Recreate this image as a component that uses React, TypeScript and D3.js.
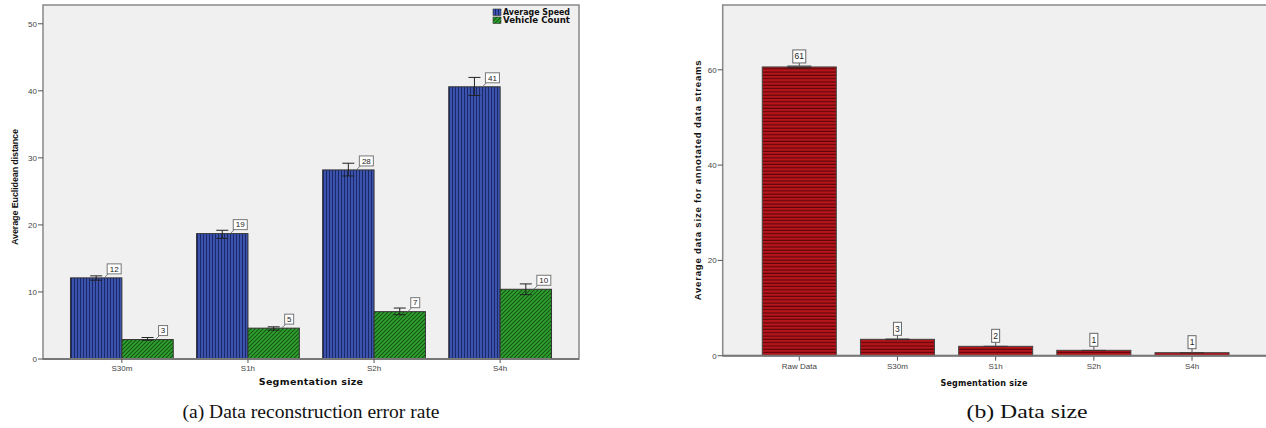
import React from 'react';
import * as d3 from 'd3';

// chart (a): reconstruction error
const segments = ['S30m', 'S1h', 'S2h', 'S4h'];
const seriesNames = ['Average Speed', 'Vehicle Count'];
const speedValues = [12.1, 18.7, 28.2, 40.6];
const speedLow = [11.75, 18.0, 27.3, 39.3];
const speedHigh = [12.4, 19.2, 29.2, 42.0];
const speedLabels = ['12', '19', '28', '41'];
const countValues = [2.9, 4.6, 7.06, 10.4];
const countLow = [2.8, 4.3, 6.6, 9.6];
const countHigh = [3.2, 4.8, 7.6, 11.2];
const countLabels = ['3', '5', '7', '10'];
const errorTicks = [0, 10, 20, 30, 40, 50];

// chart (b): data size
const sizeCategories = ['Raw Data', 'S30m', 'S1h', 'S2h', 'S4h'];
const sizeValues = [60.6, 3.44, 1.97, 1.13, 0.63];
const sizeLow = [60.25, 3.25, 1.85, 1.03, 0.55];
const sizeHigh = [60.95, 3.65, 2.1, 1.23, 0.72];
const sizeLabels = ['61', '3', '2', '1', '1'];
const sizeTicks = [0, 20, 40, 60];

const AXIS_FONT = 'Arial, "Liberation Sans", sans-serif';
const CAPTION_FONT = '"Liberation Serif", serif';

const Patterns: React.FC = () => (
  <defs>
    <pattern id="vstripe" width="3" height="4" patternUnits="userSpaceOnUse">
      <rect width="3" height="4" fill="#3b53ad" />
      <rect x="2" width="1" height="4" fill="#1b2868" />
    </pattern>
    <pattern id="diag" width="4" height="4" patternUnits="userSpaceOnUse">
      <rect width="4" height="4" fill="#2fa32f" />
      <path d="M-1,1 l2,-2 M0,4 l4,-4 M3,5 l2,-2" stroke="#155215" strokeWidth="1.1" />
    </pattern>
    <pattern id="hstripe" width="4" height="3.3" patternUnits="userSpaceOnUse">
      <rect width="4" height="3.3" fill="#b5151b" />
      <rect y="2.2" width="4" height="1.1" fill="#5c0508" />
    </pattern>
  </defs>
);

const ErrorChart: React.FC = () => {
  const left = 43, right = 579, top = 5, bottom = 359;
  const x = d3.scaleBand<string>().domain(segments).range([left, right]).paddingInner(0.185).paddingOuter(0.218);
  const xi = d3.scaleBand<string>().domain(seriesNames).range([0, x.bandwidth()]);
  const y = d3.scaleLinear().domain([0, 52.8]).range([bottom, top]);
  const bw = xi.bandwidth();

  const series = [
    { name: seriesNames[0], vals: speedValues, lo: speedLow, hi: speedHigh, labels: speedLabels, fill: 'url(#vstripe)' },
    { name: seriesNames[1], vals: countValues, lo: countLow, hi: countHigh, labels: countLabels, fill: 'url(#diag)' },
  ];

  return (
    <g>
      <rect x={left} y={top} width={right - left} height={bottom - top} fill="#f0f0f0" stroke="#888" strokeWidth={1.5} />
      {errorTicks.map(t => (
        <g key={t}>
          <line x1={left - 5} x2={left} y1={y(t)} y2={y(t)} stroke="#555" />
          <text x={left - 6} y={y(t)} dy="0.35em" textAnchor="end" fontSize={8} fill="#444" fontFamily={AXIS_FONT}>{t}</text>
        </g>
      ))}
      {series.map(s =>
        segments.map((c, i) => {
          const bx = (x(c) as number) + (xi(s.name) as number);
          const cx = bx + bw / 2;
          const yt = y(s.vals[i]);
          const lw = s.labels[i].length * 5 + 4;
          const boxL = cx + 11, boxB = yt - 4;
          return (
            <g key={s.name + c}>
              <rect x={bx} y={yt} width={bw} height={bottom - yt} fill={s.fill} stroke="#333" strokeWidth={1} />
              <line x1={cx} x2={cx} y1={y(s.hi[i])} y2={y(s.lo[i])} stroke="#222" />
              <line x1={cx - 6} x2={cx + 6} y1={y(s.hi[i])} y2={y(s.hi[i])} stroke="#222" />
              <line x1={cx - 6} x2={cx + 6} y1={y(s.lo[i])} y2={y(s.lo[i])} stroke="#222" />
              <line x1={cx + 8} y1={yt} x2={boxL + 1} y2={boxB} stroke="#777" />
              <rect x={boxL} y={boxB - 10} width={lw} height={10} fill="#fff" stroke="#777" />
              <text x={boxL + lw / 2} y={boxB - 5} dy="0.35em" textAnchor="middle" fontSize={8} fill="#222" fontFamily={AXIS_FONT}>{s.labels[i]}</text>
            </g>
          );
        })
      )}
      <line x1={left} x2={right} y1={bottom} y2={bottom} stroke="#777" strokeWidth={2} />
      {segments.map(c => {
        const cx = (x(c) as number) + x.bandwidth() / 2;
        return (
          <g key={c}>
            <line x1={cx} x2={cx} y1={bottom} y2={bottom + 4} stroke="#555" />
            <text x={cx} y={bottom + 9} dy="0.35em" textAnchor="middle" fontSize={8} fill="#444" fontFamily={AXIS_FONT}>{c}</text>
          </g>
        );
      })}
      {series.map((s, i) => (
        <g key={s.name} transform={`translate(493,${9 + i * 8})`}>
          <rect width={8} height={6.5} fill={s.fill} stroke="#333" strokeWidth={0.6} />
          <text x={10} y={3.3} dy="0.35em" fontSize={8} fontWeight="bold" fill="#111" fontFamily="DejaVu Sans, sans-serif" textLength={67} lengthAdjust="spacingAndGlyphs">{s.name}</text>
        </g>
      ))}
      <text transform={`translate(15,${(top + bottom) / 2 + 5}) rotate(-90)`} textAnchor="middle" dy="0.35em" fontSize={9} fontWeight="bold" fill="#111" fontFamily={AXIS_FONT} textLength={116}>Average Euclidean distance</text>
      <text x={(left + right) / 2} y={382} dy="0.35em" textAnchor="middle" fontSize={9.5} fontWeight="bold" fill="#111" fontFamily="DejaVu Sans, sans-serif" letterSpacing={0.3}>Segmentation size</text>
      <text x={(left + right) / 2} y={411} dy="0.35em" textAnchor="middle" fontSize={19} fill="#111" fontFamily={CAPTION_FONT} textLength={257} lengthAdjust="spacingAndGlyphs">(a)  Data reconstruction error rate</text>
    </g>
  );
};

const SizeChart: React.FC = () => {
  const left = 722.7, right = 1268.6, top = 5, bottom = 355.7;
  const x = d3.scaleBand<string>().domain(sizeCategories).range([left, right]).paddingInner(0.246).paddingOuter(0.403);
  const y = d3.scaleLinear().domain([0, 73.6]).range([bottom, top]);
  const bw = x.bandwidth();

  return (
    <g>
      <rect x={left} y={top} width={right - left} height={bottom - top} fill="#f0f0f0" stroke="#888" strokeWidth={1.5} />
      {sizeTicks.map(t => (
        <g key={t}>
          <line x1={left - 5} x2={left} y1={y(t)} y2={y(t)} stroke="#555" />
          <text x={left - 6} y={y(t)} dy="0.35em" textAnchor="end" fontSize={8} fill="#444" fontFamily={AXIS_FONT}>{t}</text>
        </g>
      ))}
      {sizeCategories.map((c, i) => {
        const bx = x(c) as number;
        const cx = bx + bw / 2;
        const yt = y(sizeValues[i]);
        const lw = sizeLabels[i].length * 5 + 3;
        const boxB = yt - 4;
        return (
          <g key={c}>
            <rect x={bx} y={yt} width={bw} height={bottom - yt} fill="url(#hstripe)" stroke="#444" strokeWidth={1} />
            <rect x={cx - 12} y={y(sizeHigh[i])} width={24} height={Math.max(1.2, y(sizeLow[i]) - y(sizeHigh[i]))} fill="#222" opacity={0.55} />
            <line x1={cx} x2={cx} y1={boxB} y2={yt} stroke="#555" />
            <rect x={cx - lw / 2} y={boxB - 13} width={lw} height={13} fill="#fff" stroke="#666" />
            <text x={cx} y={boxB - 6.5} dy="0.35em" textAnchor="middle" fontSize={8.5} fill="#222" fontFamily={AXIS_FONT}>{sizeLabels[i]}</text>
            <line x1={cx} x2={cx} y1={bottom} y2={bottom + 5} stroke="#555" />
            <text x={cx} y={bottom + 10} dy="0.35em" textAnchor="middle" fontSize={8} fill="#444" fontFamily={AXIS_FONT}>{c}</text>
          </g>
        );
      })}
      <line x1={left} x2={right} y1={bottom} y2={bottom} stroke="#777" strokeWidth={2} />
      <text transform={`translate(698,${(top + bottom) / 2}) rotate(-90)`} textAnchor="middle" dy="0.35em" fontSize={9.5} fontWeight="bold" fill="#111" fontFamily={AXIS_FONT} textLength={240}>Average data size for annotated data streams</text>
      <text x={984} y={383} dy="0.35em" textAnchor="middle" fontSize={8} fontWeight="bold" fill="#111" fontFamily="DejaVu Sans, sans-serif" letterSpacing={0.2}>Segmentation size</text>
      <text x={1027} y={411} dy="0.35em" textAnchor="middle" fontSize={19} fill="#111" fontFamily={CAPTION_FONT} textLength={121} lengthAdjust="spacingAndGlyphs">(b)  Data size</text>
    </g>
  );
};

const App: React.FC = () => (
  <svg width={1266} height={428} style={{ position: 'absolute', left: 0, top: 0, background: '#fff' }}>
    <Patterns />
    <ErrorChart />
    <SizeChart />
  </svg>
);

export default App;
